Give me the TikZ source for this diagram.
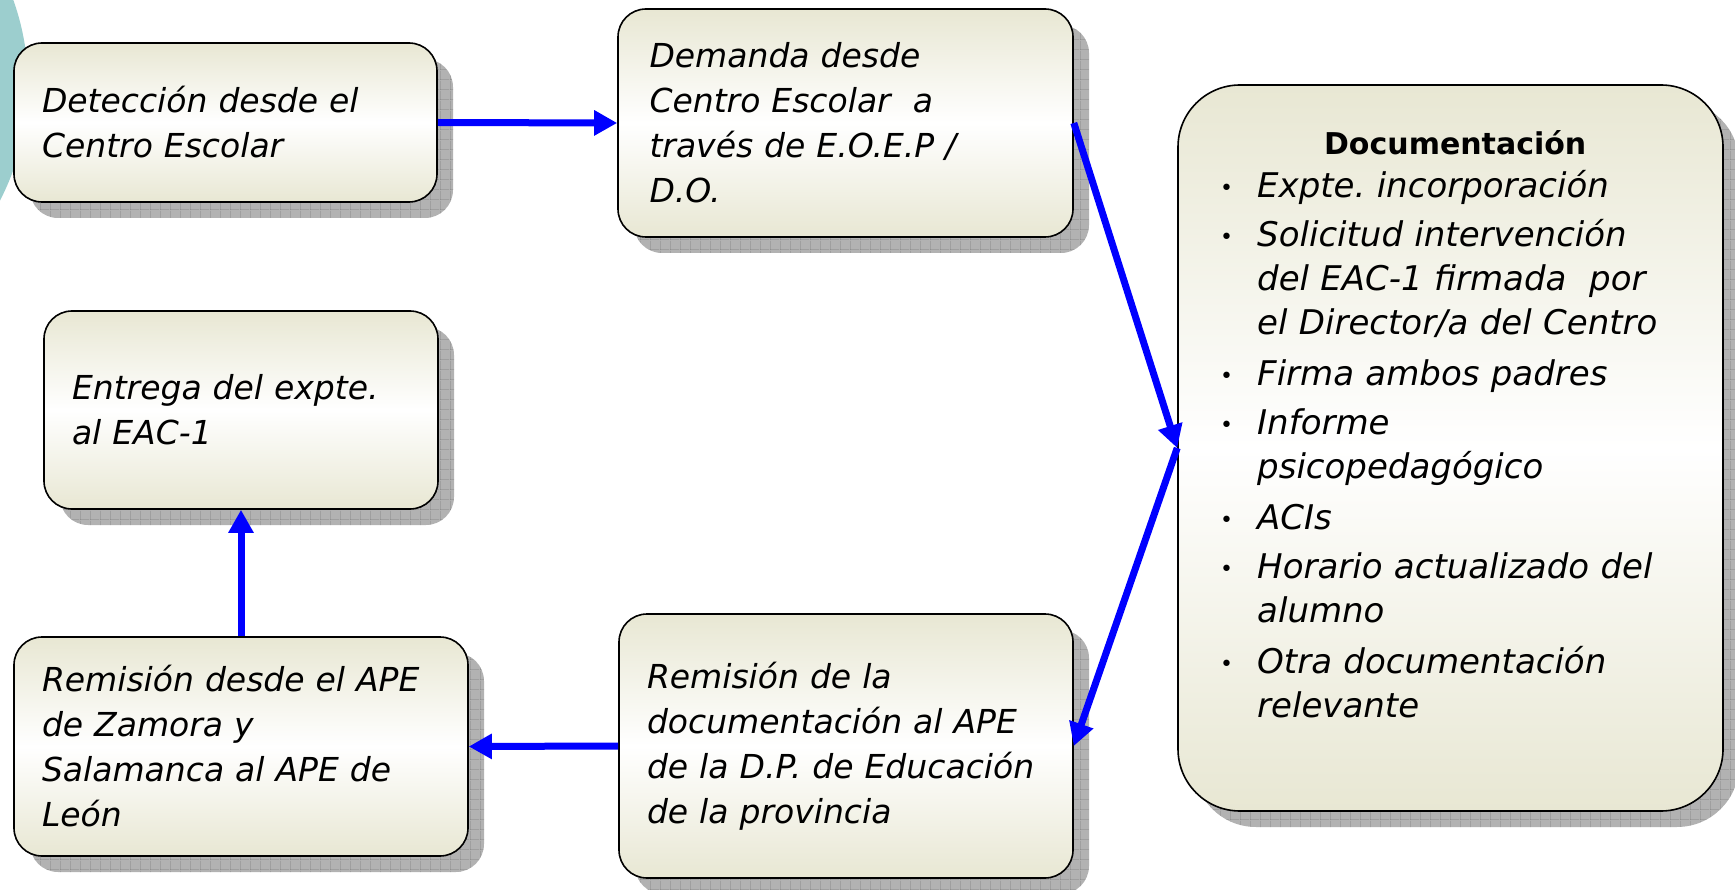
\documentclass[tikz,border=0pt]{standalone}
\usepackage{fontspec}
\setmainfont{DejaVu Sans}
\usetikzlibrary{arrows.meta,shadows,patterns.meta}
\frenchspacing
\definecolor{beige}{RGB}{232,231,211}
\definecolor{tealc}{RGB}{156,206,206}
\definecolor{shadowgray}{RGB}{178,178,178}
\definecolor{gridgray}{RGB}{125,125,125}
\definecolor{flowblue}{RGB}{0,0,255}
\tikzdeclarepattern{
  name=shadowgrid,
  type=uncolored,
  bounding box={(0pt,0pt) and (10pt,10pt)},
  tile size={(10pt,10pt)},
  code={\draw[line width=0.8pt] (0pt,0pt) -- (10pt,0pt) (0pt,0pt) -- (0pt,10pt);}
}
\newcommand\boxfont{\fontsize{33}{45}\selectfont\itshape}
\newcommand\docfont{\fontsize{34}{44}\selectfont\itshape}
\newcommand\ditem[1]{\par\vspace{5.5pt}\noindent\makebox[37pt][l]{\upshape\fontsize{22}{22}\selectfont\raisebox{2pt}{\textbullet}}\begin{tabular}[t]{@{}l@{}}#1\end{tabular}\strut\par}
\tikzset{
  boxshadow/.style={
    general shadow={fill=shadowgray, shadow xshift=16pt, shadow yshift=-16pt},
    general shadow={pattern=shadowgrid, pattern color=gridgray, shadow xshift=16pt, shadow yshift=-16pt}},
  stepbox/.style={draw=black, line width=1.6pt, rounded corners=28pt,
    top color=beige, bottom color=beige, middle color=white, boxshadow,
    align=left, inner xsep=28pt, inner ysep=0pt, font=\boxfont},
  flow/.style={draw=flowblue, line width=7pt, -{Triangle[length=23pt,width=24pt]}}
}
\begin{document}
\begin{tikzpicture}[x=1pt,y=-1pt]
\useasboundingbox (0,0) rectangle (1735,890);
\begin{scope}
  \clip (0,0) rectangle (1735,890);
  \fill[tealc] (-224,85) circle[radius=252pt];
\end{scope}

\node[stepbox, text width=367pt, minimum height=159pt] (det) at (225.5,122.5)
  {Detección desde el\\Centro Escolar};
\node[stepbox, text width=392pt, inner xsep=31.5pt, minimum height=228pt] (dem) at (845.5,123)
  {Demanda desde\\Centro Escolar\ \ a\\través de E.O.E.P /\\D.O.};
\node[stepbox, text width=338pt, minimum height=198pt] (ent) at (241,410)
  {Entrega del expte.\\al EAC-1};
\node[stepbox, text width=398pt, minimum height=219pt] (rdesde) at (241,746.5)
  {Remisión desde el APE\\de Zamora y\\Salamanca al APE de\\León};
\node[stepbox, text width=398pt, minimum height=264pt] (rde) at (846,746)
  {Remisión de la\\documentación al APE\\de la D.P. de Educación\\de la provincia};

\node[draw=black, line width=1.6pt, rounded corners=62pt,
  top color=beige, bottom color=beige, middle color=white, boxshadow,
  minimum width=545pt, minimum height=726pt] (doc) at (1450.5,448) {};
\node[anchor=base west, inner sep=0pt, text width=470pt, font=\docfont] (doctext) at (1220,155)
  {{\centering\upshape\bfseries\fontsize{30}{44}\selectfont Documentación\par}\vspace{-7pt}%
   \ditem{Expte. incorporación}%
   \ditem{Solicitud intervención\\del EAC-1 firmada\ \ por\\el Director/a del Centro}%
   \ditem{Firma ambos padres}%
   \ditem{Informe\\psicopedagógico}%
   \ditem{ACIs}%
   \ditem{Horario actualizado del\\alumno}%
   \ditem{Otra documentación\\relevante}};

\draw[flow] (det.east) -- (dem.west);
\draw[flow] (dem.east) -- (doc.west);
\draw[flow] (doc.west) -- (rde.east);
\draw[flow] (rde.west) -- (rdesde.east);
\draw[flow] (rdesde.north) -- (ent.south);
\end{tikzpicture}
\end{document}
